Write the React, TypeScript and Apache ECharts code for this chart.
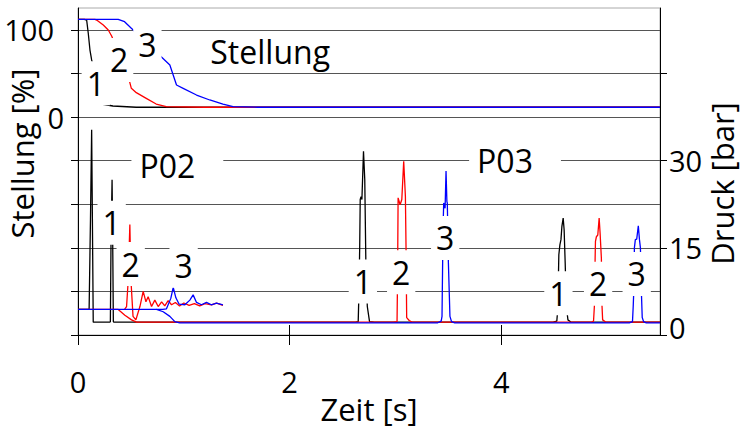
import { useEffect, useRef } from 'react';
import * as echarts from 'echarts';

const FONT = '"Open Sans", "Noto Sans", sans-serif';

// Axis ticks / labels
const xTicks = [0, 2, 4];
const stellungTicks = [-250, -200, -150, -100, -50, 0, 50, 100];
const stellungTickLabels = [0, 100];
const druckTicks = [0, 15, 30, 45];
const druckTickLabels = [0, 15, 30];

// Stellung [%] curves (time s, position %)
const stellung1: [number, number][] = [
  [0, 112], [0.06, 112], [0.082, 111], [0.097, 96], [0.113, 76.8], [0.129, 65.4],
  [0.22, 14.9], [0.33, 12.6], [0.55, 11.2], [1.5, 11.2], [3, 11.2], [5.5, 11.2],
];
const stellung2: [number, number][] = [
  [0, 112], [0.16, 112], [0.176, 111.2], [0.239, 105.5], [0.286, 99.8], [0.318, 92.9],
  [0.482, 43.2], [0.504, 32.9], [0.551, 27.9], [0.645, 21.4], [0.739, 14.9], [0.834, 11.8],
  [1.2, 11.2], [3, 11.2], [5.5, 11.2],
];
const stellung3: [number, number][] = [
  [0, 112], [0.38, 112], [0.44, 109.3], [0.504, 101.7], [0.868, 59.6], [0.931, 36.7],
  [0.994, 32.9], [1.12, 25.2], [1.245, 19.5], [1.37, 14.9], [1.465, 11.8], [1.7, 11.2],
  [3, 11.2], [5.5, 11.2],
];

// Druck [bar] curves (time s, pressure bar)
const druck1: [number, number][] = [
  [0, 4.4], [0.105, 4.4], [0.118, 20], [0.129, 35.3], [0.136, 20], [0.144, 2.2],
  [0.3, 2.2], [0.306, 2.3], [0.312, 16], [0.322, 26.7], [0.328, 16], [0.334, 2.3], [0.34, 2.2],
  [2.62, 2.2], [2.648, 2.3], [2.656, 8], [2.662, 15], [2.667, 23.3], [2.675, 23.8], [2.683, 23.3],
  [2.698, 31.6], [2.71, 26.7], [2.72, 12.9], [2.734, 4.9], [2.755, 2.3], [2.8, 2.2],
  [4.49, 2.2], [4.525, 2.4], [4.532, 4], [4.54, 10], [4.544, 13.8], [4.554, 15.5], [4.564, 16.4],
  [4.573, 18.7], [4.585, 20.1], [4.594, 18.1], [4.604, 12.4], [4.615, 4.9], [4.63, 2.6], [4.66, 2.2],
  [5.5, 2.2],
];
const druck2: [number, number][] = [
  [0, 4.4], [0.38, 4.4], [0.443, 3.4], [0.506, 2.6], [0.553, 2.2],
  [2.98, 2.2], [3.015, 2.3], [3.02, 10], [3.025, 23.6], [3.044, 22.4], [3.06, 23.3], [3.078, 29.9],
  [3.094, 23.8], [3.1, 15], [3.106, 3], [3.13, 2.5], [3.16, 2.2],
  [4.85, 2.2], [4.872, 2.4], [4.88, 5], [4.887, 13.2], [4.89, 16.1], [4.899, 16.9], [4.912, 17.2],
  [4.925, 20.1], [4.934, 17.5], [4.946, 13.2], [4.952, 5], [4.958, 2.6], [4.99, 2.2],
  [5.5, 2.2],
];
const druck3: [number, number][] = [
  [0, 4.4], [0.742, 4.4], [0.805, 4.0], [0.868, 3.2], [0.915, 2.3], [0.96, 2.1],
  [3.4, 2.1], [3.432, 2.4], [3.44, 3.2], [3.446, 12.6], [3.452, 20], [3.456, 22.7], [3.469, 21.8],
  [3.478, 28.2], [3.486, 23], [3.49, 22.7], [3.5, 12.6], [3.515, 3.2], [3.53, 2.3], [3.56, 2.1],
  [5.21, 2.1], [5.24, 2.3], [5.247, 5], [5.252, 7.5], [5.258, 15], [5.267, 16.4], [5.28, 16.5],
  [5.295, 18.8], [5.306, 16.4], [5.315, 15], [5.324, 7.5], [5.332, 3], [5.345, 2.3], [5.37, 2.1],
  [5.5, 2.1],
];
// P02 oscillating traces
const druckP02Red: [number, number][] = [
  [0.44, 4.4], [0.459, 4.9], [0.475, 9.5], [0.49, 19], [0.5, 9.5], [0.52, 3.2], [0.547, 2.6],
  [0.585, 4.9], [0.616, 7.5], [0.642, 5.7], [0.663, 6.6], [0.695, 4.9], [0.726, 6.0], [0.758, 4.9],
  [0.79, 5.7], [0.82, 5.0], [0.852, 5.9], [0.884, 5.2], [0.92, 5.6], [0.96, 5.0], [1.0, 5.5],
  [1.05, 5.1], [1.1, 5.4], [1.15, 5.0], [1.2, 5.4], [1.26, 5.2], [1.31, 5.5], [1.37, 5.1],
];
const druckP02Blue: [number, number][] = [
  [0.742, 4.4], [0.8, 4.4], [0.836, 4.5], [0.877, 6.3], [0.9, 8.2], [0.925, 6.4], [0.956, 5.3],
  [1.01, 5.2], [1.057, 6.0], [1.088, 6.9], [1.12, 5.6], [1.167, 5.2], [1.214, 5.6], [1.26, 5.2],
  [1.308, 5.5], [1.37, 5.2],
];

// Annotations: text, time, value
const stellungNotes: [string, number, number][] = [
  ['1', 0.168, 38.6], ['2', 0.389, 65.4], ['3', 0.656, 82.6], ['Stellung', 1.816, 75],
];
const druckNotes: [string, number, number][] = [
  ['P02', 0.939, 29.1], ['P03', 4.13, 30],
  ['1', 0.318, 19.3], ['2', 0.498, 12.2], ['3', 0.998, 11.9],
  ['1', 2.692, 9.2], ['2', 3.054, 10.8], ['3', 3.47, 16.7],
  ['1', 4.54, 7.2], ['2', 4.915, 8.8], ['3', 5.28, 10.5],
];

const BLACK = '#000000';
const RED = '#ff0000';
const BLUE = '#0000ff';

function lineSeries(data: [number, number][], color: string, yAxisIndex: number) {
  return {
    type: 'line',
    xAxisIndex: 0,
    yAxisIndex,
    data,
    showSymbol: false,
    symbol: 'none',
    lineStyle: { color, width: 1.3 },
    itemStyle: { color },
    z: 2,
    silent: true,
  };
}

function noteItem(n: [string, number, number]) {
  const [text, t, v] = n;
  let padding: number[] = [4, 5];
  if (text === 'Stellung') padding = [0, 0];
  else if (text.length > 1) padding = [2, 28, 2, 8];
  return { value: [t, v], label: { formatter: text, padding } };
}

function noteSeries(notes: [string, number, number][], yAxisIndex: number) {
  return {
    type: 'scatter',
    xAxisIndex: 0,
    yAxisIndex,
    data: notes.map(noteItem),
    symbol: 'circle',
    symbolSize: 1,
    itemStyle: { color: 'rgba(255,255,255,0)', opacity: 1 },
    label: {
      show: true,
      position: 'inside',
      color: '#000000',
      opacity: 1,
      fontSize: 32,
      fontFamily: FONT,
      lineHeight: 36,
      backgroundColor: '#ffffff',
      textBorderWidth: 0,
      textBorderColor: 'transparent',
    },
    z: 10,
    silent: true,
  };
}

export default function App() {
  const ref = useRef<HTMLDivElement>(null);
  useEffect(() => {
    if (!ref.current) return;
    const chart = echarts.init(ref.current, null, { renderer: 'svg' });
    const tickLabelStyle = { color: '#000', fontSize: 29, fontFamily: FONT };
    const nameStyle = { color: '#000', fontSize: 31, fontFamily: FONT };
    chart.setOption({
      animation: false,
      backgroundColor: '#ffffff',
      grid: {
        left: 78, right: 83, top: 8, bottom: 96, show: true, borderColor: '#aaaaaa', borderWidth: 1,
        containLabel: false, outerBoundsMode: 'none',
      },
      xAxis: [
        {
          type: 'value', min: 0, max: 5.5, interval: 2, position: 'bottom',
          axisLine: { show: true, onZero: false, lineStyle: { color: '#000', width: 1 } },
          axisTick: { show: true, length: 10, customValues: xTicks, lineStyle: { color: '#000' } },
          axisLabel: {
            ...tickLabelStyle, margin: 32, customValues: xTicks,
            formatter: (v: number) => (xTicks.includes(v) ? String(v) : ''),
          },
          splitLine: { show: false },
          name: 'Zeit [s]', nameLocation: 'middle', nameGap: 58, nameMoveOverlap: false,
          nameTextStyle: nameStyle,
        },
        {
          type: 'value', min: 0, max: 5.5, interval: 2, position: 'bottom',
          axisLine: { show: false, onZero: false },
          axisTick: { show: true, inside: true, length: 10, customValues: xTicks, lineStyle: { color: '#000' } },
          axisLabel: { show: false },
          splitLine: { show: false },
        },
      ],
      yAxis: [
        {
          type: 'value', min: -250, max: 125, interval: 50, position: 'left',
          axisLine: { show: true, onZero: false, lineStyle: { color: '#000', width: 1 } },
          axisTick: { show: true, length: 7, customValues: stellungTicks, lineStyle: { color: '#000' } },
          axisLabel: {
            ...tickLabelStyle, margin: 14, customValues: stellungTickLabels,
            formatter: (v: number) => (v === 100 ? '{a|100}' : stellungTickLabels.includes(v) ? String(v) : ''),
            rich: { a: { ...tickLabelStyle, padding: [0, 10, 0, 0] } },
          },
          splitLine: { show: true, lineStyle: { color: '#555555', width: 1 } },
          name: 'Stellung [%]', nameLocation: 'middle', nameRotate: 90, nameGap: 41, nameMoveOverlap: false,
          nameTextStyle: { ...nameStyle, padding: [0, 0, 0, 36] },
        },
        {
          type: 'value', min: 0, max: 56.25, interval: 15, position: 'right',
          axisLine: { show: true, onZero: false, lineStyle: { color: '#000', width: 1 } },
          axisTick: { show: true, length: 7, customValues: druckTicks, lineStyle: { color: '#000' } },
          axisLabel: {
            ...tickLabelStyle, margin: 9, customValues: druckTickLabels,
            formatter: (v: number) => (v === 0 ? '{b|0}' : druckTickLabels.includes(v) ? String(v) : ''),
            rich: { b: { ...tickLabelStyle, padding: [0, 0, 16, 0] } },
          },
          splitLine: { show: false },
          name: 'Druck [bar]', nameLocation: 'middle', nameRotate: 90, nameGap: 46, nameMoveOverlap: false,
          nameTextStyle: { ...nameStyle, padding: [0, 24, 0, 0] },
        },
      ],
      series: [
        lineSeries(stellung1, BLACK, 0),
        lineSeries(stellung2, RED, 0),
        lineSeries(stellung3, BLUE, 0),
        lineSeries(druck1, BLACK, 1),
        lineSeries(druck2, RED, 1),
        lineSeries(druckP02Red, RED, 1),
        lineSeries(druck3, BLUE, 1),
        lineSeries(druckP02Blue, BLUE, 1),
        noteSeries(stellungNotes, 0),
        noteSeries(druckNotes, 1),
      ],
    });
    return () => chart.dispose();
  }, []);
  return (
    <div
      ref={ref}
      style={{ position: 'absolute', left: 0, top: 0, width: 743, height: 431, background: '#fff' }}
    />
  );
}
